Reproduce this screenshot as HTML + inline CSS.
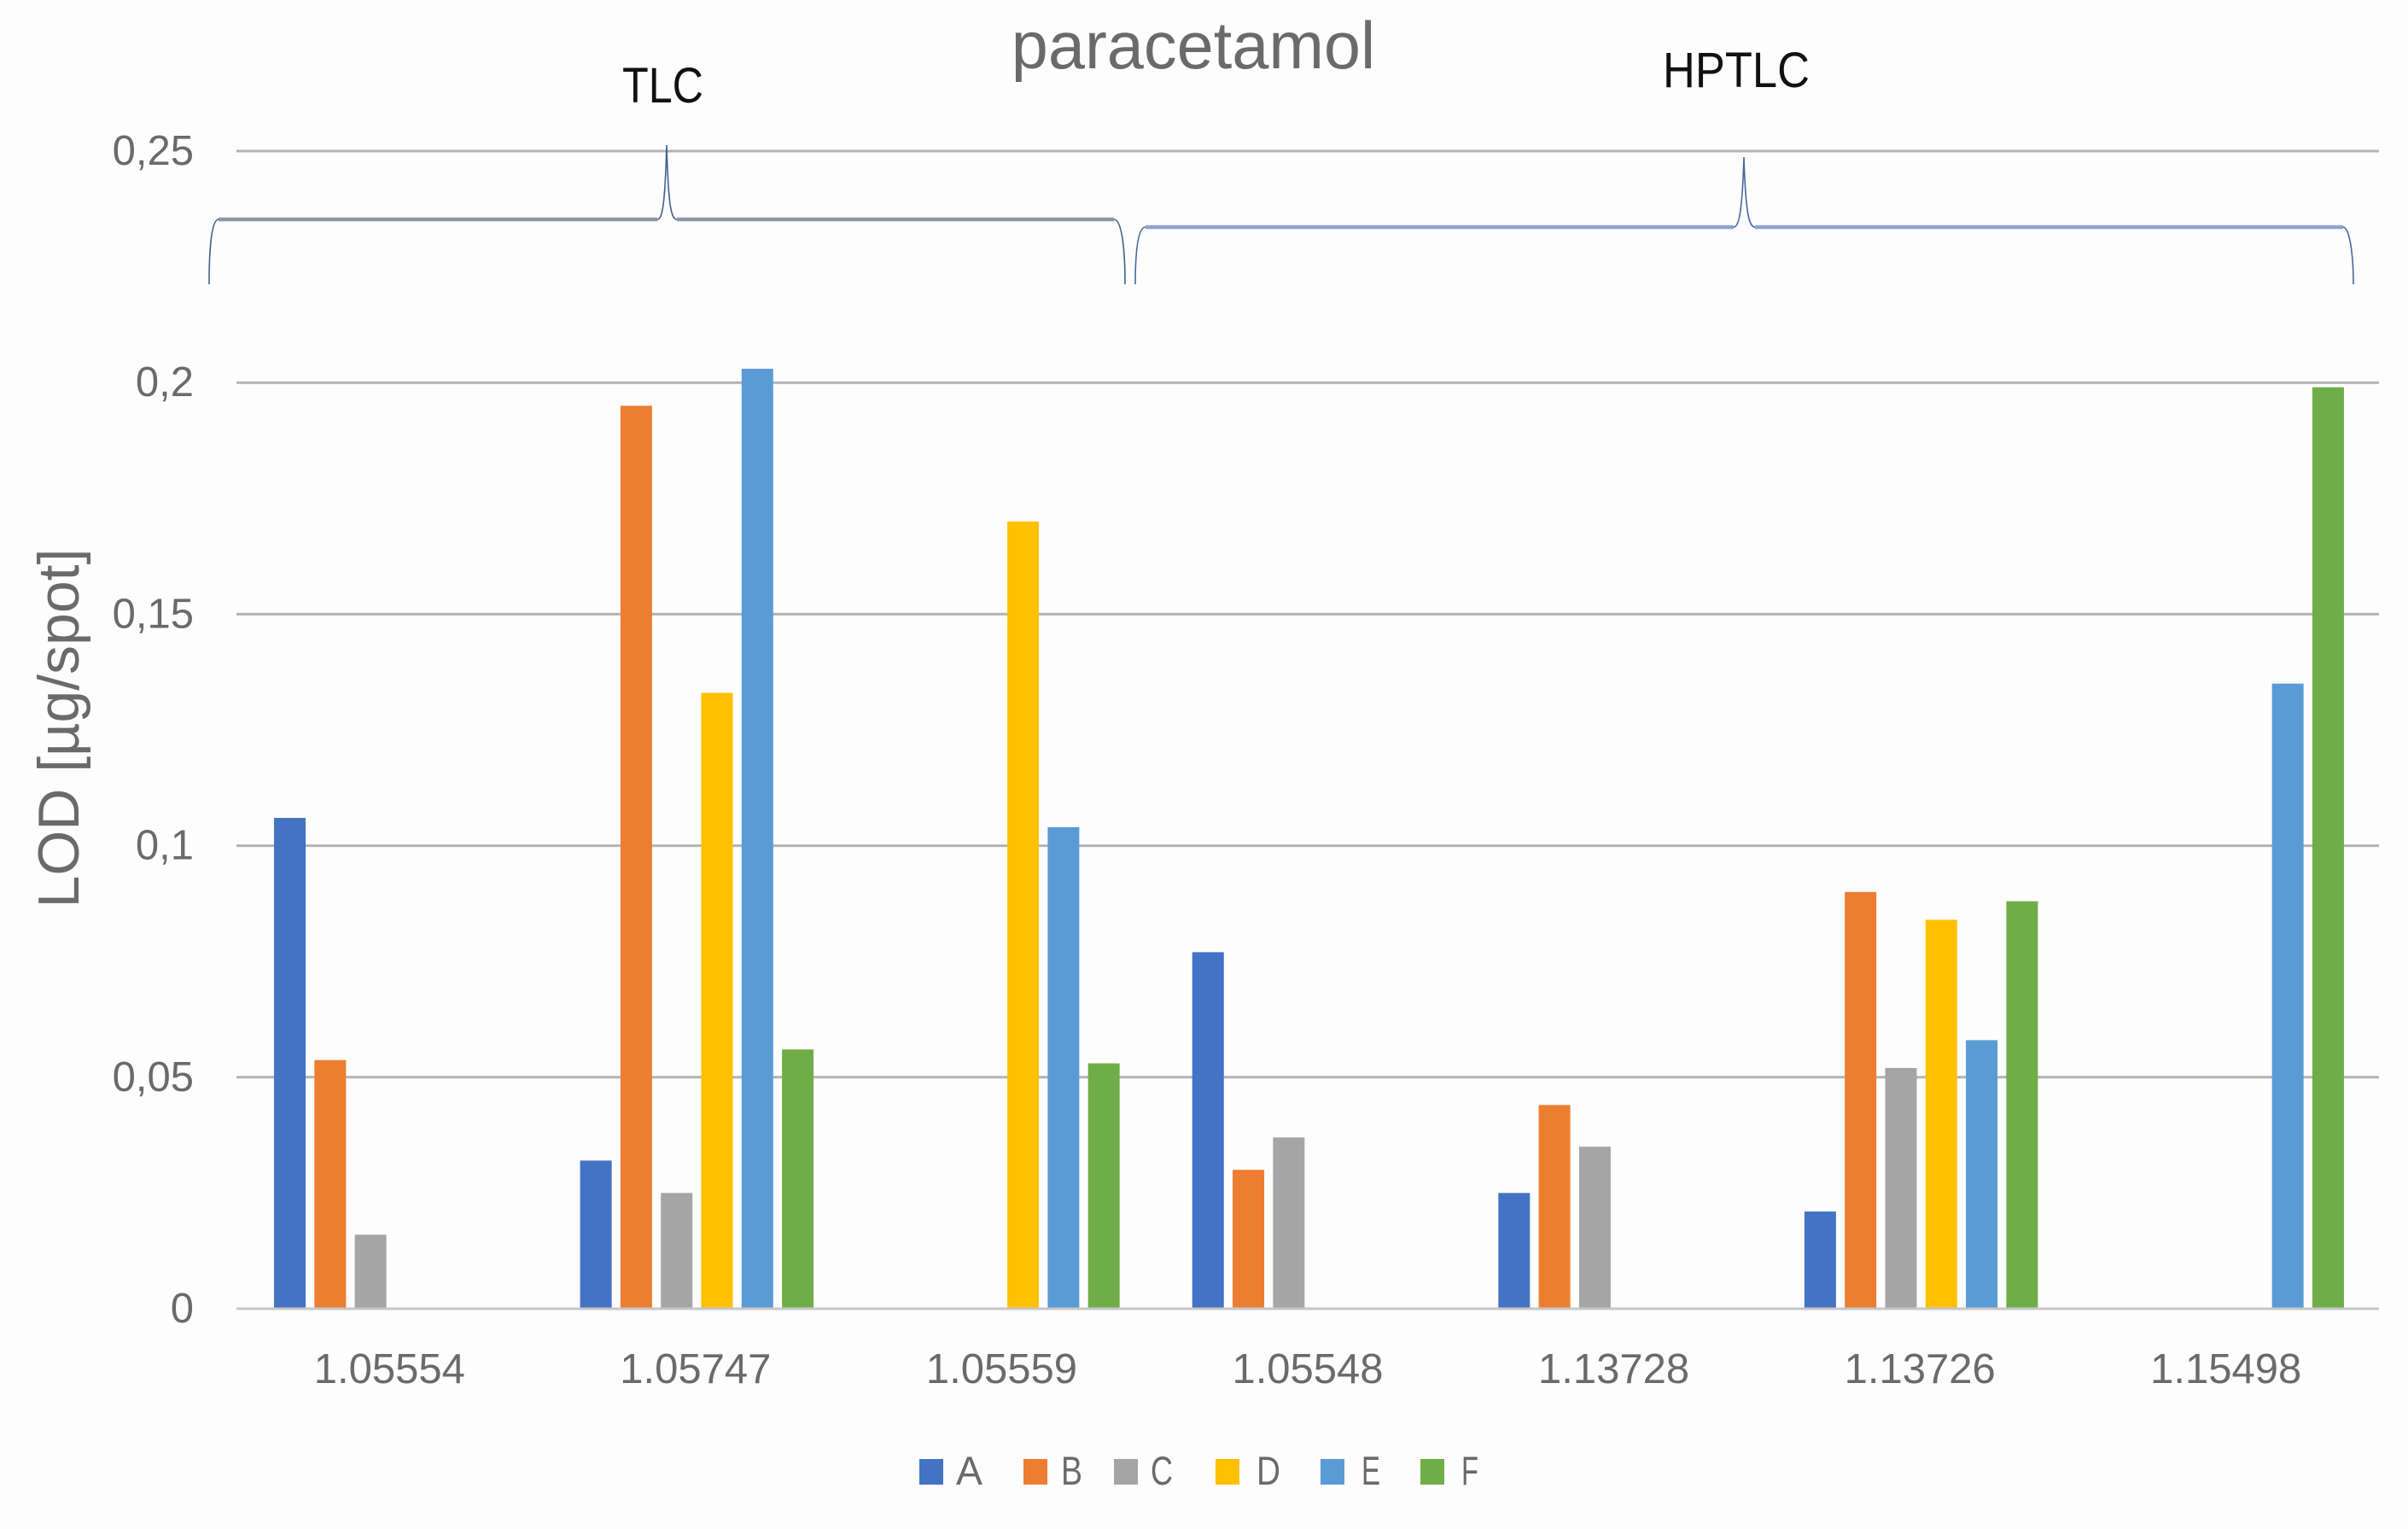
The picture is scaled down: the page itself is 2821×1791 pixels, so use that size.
<!DOCTYPE html>
<html lang="en">
<head>
<meta charset="utf-8">
<title>paracetamol LOD chart</title>
<style>
  html, body { margin: 0; padding: 0; background: #fdfdfe; }
  svg { display: block; }
  text { font-family: "Liberation Sans", sans-serif; }
  .tick { font-size: 49px; fill: #6a6a6a; }
  .legend-text { font-size: 47px; fill: #6a6a6a; }
  .brace-curve { fill: none; stroke-width: 1.6; }
  .brace-bar { fill: none; stroke-width: 4.5; }
</style>
</head>
<body>
<svg id="chart" xmlns="http://www.w3.org/2000/svg" width="2821" height="1791" viewBox="0 0 2821 1791">
  <rect x="0" y="0" width="2821" height="1791" fill="#fdfdfe"/>
  <g id="grid"></g>
  <g id="bars"></g>
  <g id="baseline"></g>
  <g id="yticks"></g>
  <g id="xticks"></g>

  <text x="1398" y="80" text-anchor="middle" font-size="77.5" fill="#6a6a6a">paracetamol</text>
  <text x="729" y="120" font-size="58" fill="#111" textLength="95" lengthAdjust="spacingAndGlyphs">TLC</text>
  <text x="1948" y="102" font-size="58" fill="#111" textLength="172" lengthAdjust="spacingAndGlyphs">HPTLC</text>
  <text transform="translate(92,853) rotate(-90)" text-anchor="middle" font-size="68" fill="#6a6a6a">LOD [µg/spot]</text>

  <g>
    <path class="brace-curve" stroke="#44608f" d="M245 333 C245 290 248 257 256 257 M770 257 C776 257 779 240 781 170 C783 240 786 257 793 257 M1305 257 C1314 257 1318 290 1318 333"/>
    <path class="brace-bar" stroke="#8d96a6" d="M256 257 H770 M793 257 H1305"/>
  </g>
  <g>
    <path class="brace-curve" stroke="#44689f" d="M1330 333 C1330 295 1333 266 1342 266 M2031 266 C2037 266 2041 250 2043 184 C2045 250 2049 266 2056 266 M2745 266 C2752 266 2757 295 2757 333"/>
    <path class="brace-bar" stroke="#8fa3cc" d="M1342 266 H2031 M2056 266 H2745"/>
  </g>

  <g>
    <g>
      <rect x="1077" y="1709" width="28" height="30" fill="#4472C4"/>
      <text class="legend-text" x="1120" y="1739" textLength="31" lengthAdjust="spacingAndGlyphs">A</text>
    </g>
    <g>
      <rect x="1199" y="1709" width="28" height="30" fill="#ED7D31"/>
      <text class="legend-text" x="1243" y="1739" textLength="25" lengthAdjust="spacingAndGlyphs">B</text>
    </g>
    <g>
      <rect x="1305" y="1709" width="28" height="30" fill="#A5A5A5"/>
      <text class="legend-text" x="1348" y="1739" textLength="26" lengthAdjust="spacingAndGlyphs">C</text>
    </g>
    <g>
      <rect x="1424" y="1709" width="28" height="30" fill="#FFC000"/>
      <text class="legend-text" x="1472" y="1739" textLength="28" lengthAdjust="spacingAndGlyphs">D</text>
    </g>
    <g>
      <rect x="1547" y="1709" width="28" height="30" fill="#5B9BD5"/>
      <text class="legend-text" x="1595" y="1739" textLength="22" lengthAdjust="spacingAndGlyphs">E</text>
    </g>
    <g>
      <rect x="1664" y="1709" width="28" height="30" fill="#70AD47"/>
      <text class="legend-text" x="1712" y="1739" textLength="20" lengthAdjust="spacingAndGlyphs">F</text>
    </g>
  </g>
</svg>

<script>
const categories = ["1.05554", "1.05747", "1.05559", "1.05548", "1.13728", "1.13726", "1.15498"];
const seriesNames = ["A", "B", "C", "D", "E", "F"];
const seriesA = [0.106, 0.032, null, 0.077, 0.025, 0.021, null];
const seriesB = [0.0537, 0.195, null, 0.030, 0.044, 0.090, null];
const seriesC = [0.016, 0.025, null, 0.037, 0.035, 0.052, null];
const seriesD = [null, 0.133, 0.170, null, null, 0.084, null];
const seriesE = [null, 0.203, 0.104, null, null, 0.058, 0.135];
const seriesF = [null, 0.056, 0.053, null, null, 0.088, 0.199];
const yTickValues = [0, 0.05, 0.1, 0.15, 0.2, 0.25];
const yTickLabels = ["0", "0,05", "0,1", "0,15", "0,2", "0,25"];

const allSeries = [seriesA, seriesB, seriesC, seriesD, seriesE, seriesF];
const seriesColors = ["#4472C4", "#ED7D31", "#A5A5A5", "#FFC000", "#5B9BD5", "#70AD47"];

const NS = "http://www.w3.org/2000/svg";
const plotLeft = 277, plotRight = 2787, plotBottom = 1533, plotTop = 177, yMax = 0.25;
const barWidth = 37, barPitch = 47.3, barShift = 1.5;

function yScale(v) {
  return plotBottom - (v / yMax) * (plotBottom - plotTop);
}
function xCenter(i) {
  return plotLeft + (plotRight - plotLeft) * (i + 0.5) / categories.length;
}
function xBar(i, s) {
  return xCenter(i) + barShift + (s - (seriesNames.length - 1) / 2) * barPitch - barWidth / 2;
}

const gridGroup = document.getElementById("grid");
const baselineGroup = document.getElementById("baseline");
const yTickGroup = document.getElementById("yticks");
const xTickGroup = document.getElementById("xticks");
const barGroup = document.getElementById("bars");

yTickValues.forEach(function (v, k) {
  const line = document.createElementNS(NS, "line");
  
  
  line.setAttribute("x1", plotLeft);
  line.setAttribute("x2", plotRight);
  line.setAttribute("y1", yScale(v));
  line.setAttribute("y2", yScale(v));
  line.setAttribute("stroke", v === 0 ? "#c6c6ca" : "#b2b3b7");
  line.setAttribute("stroke-width", 3);
  (v === 0 ? baselineGroup : gridGroup).appendChild(line);

  const label = document.createElementNS(NS, "text");
  
  
  label.setAttribute("class", "tick");
  label.setAttribute("x", 227);
  label.setAttribute("y", yScale(v) + 16);
  label.setAttribute("text-anchor", "end");
  label.textContent = yTickLabels[k];
  yTickGroup.appendChild(label);
});

categories.forEach(function (name, i) {
  const label = document.createElementNS(NS, "text");
  
  
  label.setAttribute("class", "tick");
  label.setAttribute("x", xCenter(i));
  label.setAttribute("y", 1620);
  label.setAttribute("text-anchor", "middle");
  label.textContent = name;
  xTickGroup.appendChild(label);
});

allSeries.forEach(function (values, s) {
  values.forEach(function (v, i) {
    if (v === null) return;
    const bar = document.createElementNS(NS, "rect");
    
    
    bar.setAttribute("x", xBar(i, s));
    bar.setAttribute("y", yScale(v));
    bar.setAttribute("width", barWidth);
    bar.setAttribute("height", yScale(0) - yScale(v));
    bar.setAttribute("fill", seriesColors[s]);
    barGroup.appendChild(bar);
  });
});
</script>
</body>
</html>
